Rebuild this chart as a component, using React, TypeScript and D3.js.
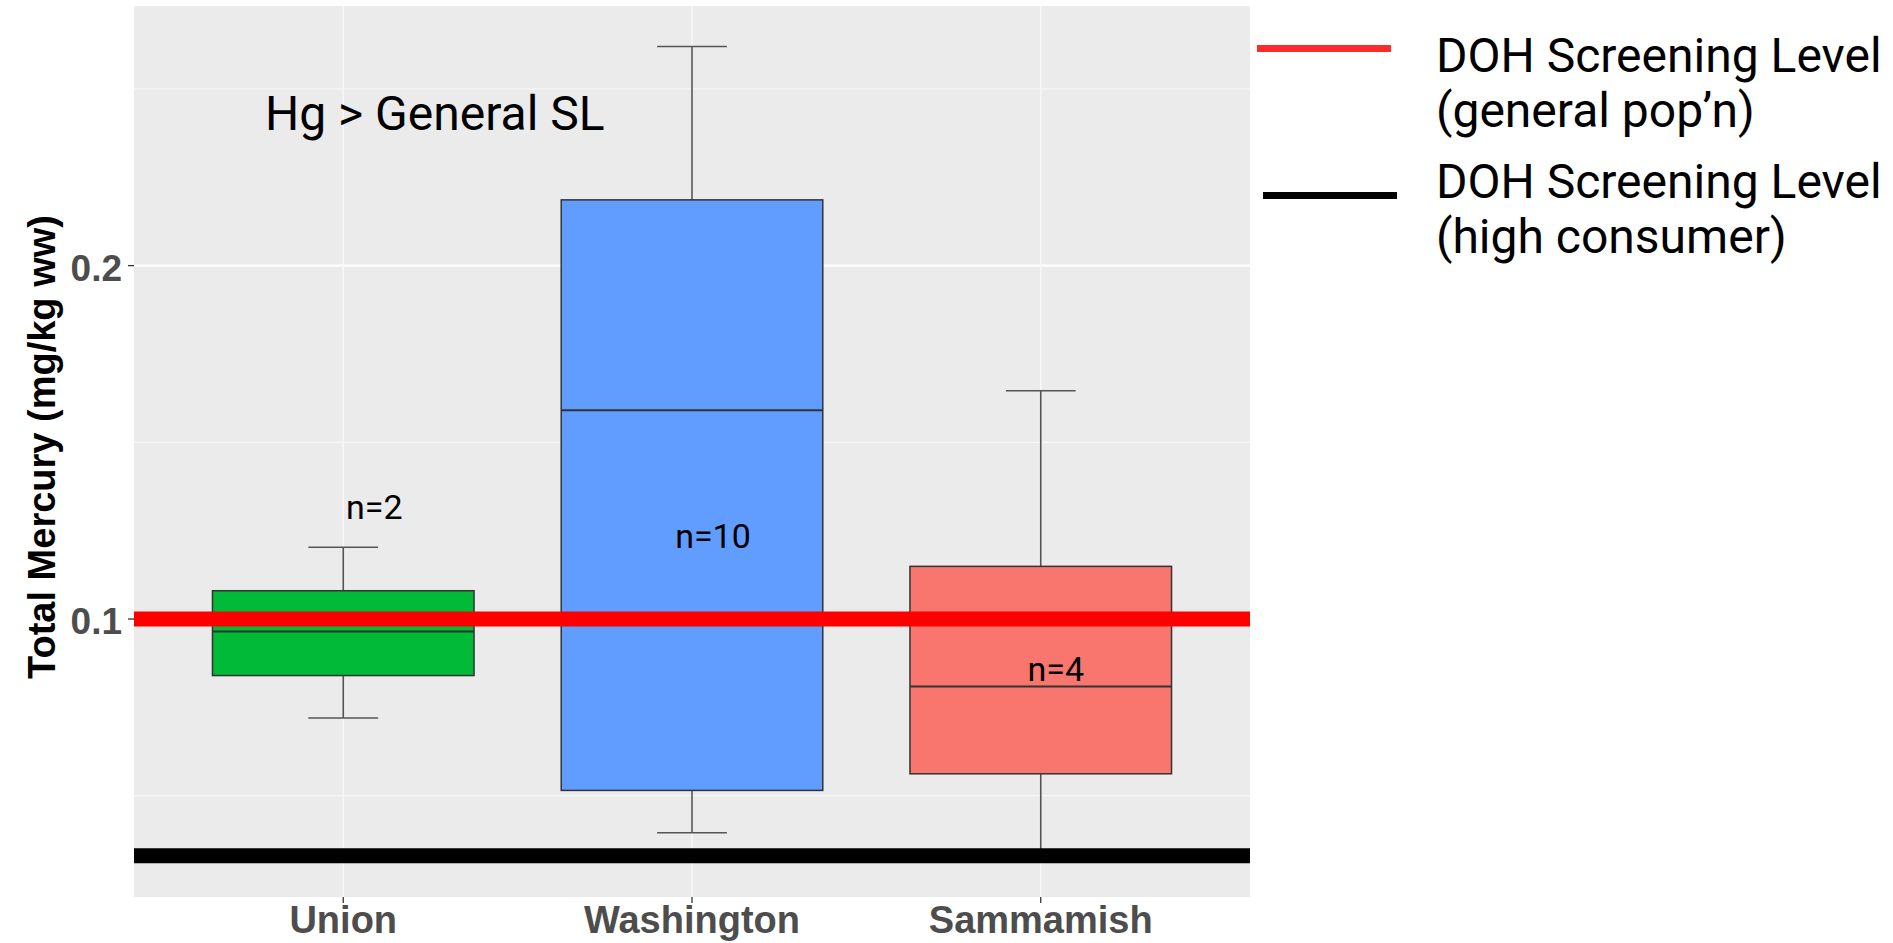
import React from "react";
import * as d3 from "d3";

// Fish tissue mercury by lake
const categories = ["Union", "Washington", "Sammamish"];
const whiskerLow = [0.072, 0.0395, 0.0328];
const quartile1 = [0.084, 0.0515, 0.0562];
const medians = [0.0965, 0.1591, 0.0809];
const quartile3 = [0.108, 0.2186, 0.1149];
const whiskerHigh = [0.1203, 0.262, 0.1646];
const sampleCounts = [2, 10, 4];
const boxFills = ["#00BA38", "#619CFF", "#F8766D"];

// DOH screening levels (mg/kg ww)
const screeningValues = [0.1, 0.033];
const screeningColors = ["#FF0000", "#000000"];
const screeningLegendColors = ["#FF2B2B", "#000000"];
const screeningLabels = [
  ["DOH Screening Level", "(general pop\u2019n)"],
  ["DOH Screening Level", "(high consumer)"],
];

const majorTicks = [0.1, 0.2];
const minorTicks = [0.05, 0.15, 0.25];

const W = 1893;
const H = 943;
const panel = { left: 134, right: 1250, top: 6, bottom: 897 };

export default function App() {
  const allValues = [...whiskerLow, ...whiskerHigh, ...screeningValues];
  const [lo, hi] = d3.extent(allValues) as [number, number];
  const pad = (hi - lo) * 0.05;
  const y = d3.scaleLinear().domain([lo - pad, hi + pad]).range([panel.bottom, panel.top]);
  const x = d3
    .scaleLinear()
    .domain([0.4, categories.length + 0.6])
    .range([panel.left, panel.right]);
  const unit = x(2) - x(1);
  const boxHalf = (0.75 * unit) / 2;
  const capHalf = (0.2 * unit) / 2;

  // where each "n=" annotation sits: value on the y axis and horizontal nudge from the box centre
  const countLabelAt = [
    { v: 0.1284, dx: 31 },
    { v: 0.1201, dx: 21 },
    { v: 0.0825, dx: 15 },
  ];

  const axisFont = "'Liberation Sans', Arial, sans-serif";
  const noteFont = "Roboto, 'Noto Sans', sans-serif";

  return (
    <svg
      width={W}
      height={H}
      viewBox={`0 0 ${W} ${H}`}
      style={{ position: "absolute", left: 0, top: 0, background: "#ffffff" }}
    >
      <rect x={0} y={0} width={W} height={H} fill="#ffffff" />
      {/* panel */}
      <rect
        x={panel.left}
        y={panel.top}
        width={panel.right - panel.left}
        height={panel.bottom - panel.top}
        fill="#EBEBEB"
      />
      {minorTicks.map((t) => (
        <line
          key={`mn${t}`}
          x1={panel.left}
          x2={panel.right}
          y1={y(t)}
          y2={y(t)}
          stroke="#F6F6F6"
          strokeWidth={1.3}
        />
      ))}
      {majorTicks.map((t) => (
        <line
          key={`mj${t}`}
          x1={panel.left}
          x2={panel.right}
          y1={y(t)}
          y2={y(t)}
          stroke="#ffffff"
          strokeWidth={2.2}
        />
      ))}
      {categories.map((c, i) => (
        <line
          key={`vg${c}`}
          x1={x(i + 1)}
          x2={x(i + 1)}
          y1={panel.top}
          y2={panel.bottom}
          stroke="#F7F7F7"
          strokeWidth={1.6}
        />
      ))}

      {/* boxplots */}
      {categories.map((c, i) => {
        const cx = x(i + 1);
        return (
          <g key={`box${c}`}>
            <line x1={cx} x2={cx} y1={y(whiskerHigh[i])} y2={y(quartile3[i])} stroke="#555555" strokeWidth={1.6} />
            <line x1={cx} x2={cx} y1={y(quartile1[i])} y2={y(whiskerLow[i])} stroke="#555555" strokeWidth={1.6} />
            <line
              x1={cx - capHalf}
              x2={cx + capHalf}
              y1={y(whiskerHigh[i])}
              y2={y(whiskerHigh[i])}
              stroke="#555555"
              strokeWidth={1.6}
            />
            <line
              x1={cx - capHalf}
              x2={cx + capHalf}
              y1={y(whiskerLow[i])}
              y2={y(whiskerLow[i])}
              stroke="#555555"
              strokeWidth={1.6}
            />
            <rect
              x={cx - boxHalf}
              y={y(quartile3[i])}
              width={boxHalf * 2}
              height={y(quartile1[i]) - y(quartile3[i])}
              fill={boxFills[i]}
              stroke="#333333"
              strokeWidth={1.5}
            />
            <line
              x1={cx - boxHalf}
              x2={cx + boxHalf}
              y1={y(medians[i])}
              y2={y(medians[i])}
              stroke="#333333"
              strokeWidth={2}
            />
          </g>
        );
      })}

      {/* screening level lines */}
      {screeningValues.map((v, i) => (
        <line
          key={`sl${i}`}
          x1={panel.left}
          x2={panel.right}
          y1={y(v)}
          y2={y(v)}
          stroke={screeningColors[i]}
          strokeWidth={15}
        />
      ))}

      {/* sample counts */}
      {categories.map((c, i) => (
        <text
          key={`n${c}`}
          x={x(i + 1) + countLabelAt[i].dx}
          y={y(countLabelAt[i].v)}
          textAnchor="middle"
          fontFamily={noteFont}
          fontSize={34}
          fill="#000000"
        >
          {`n=${sampleCounts[i]}`}
        </text>
      ))}

      <text x={265} y={130} fontFamily={noteFont} fontSize={48} fill="#000000">
        Hg &gt; General SL
      </text>

      {/* y axis */}
      {majorTicks.map((t) => (
        <g key={`yt${t}`}>
          <line x1={panel.left - 6} x2={panel.left} y1={y(t)} y2={y(t)} stroke="#333333" strokeWidth={1.3} />
          <text
            x={panel.left - 12}
            y={y(t) + 15}
            textAnchor="end"
            fontFamily={axisFont}
            fontWeight="bold"
            fontSize={37}
            fill="#4D4D4D"
          >
            {d3.format(".1f")(t)}
          </text>
        </g>
      ))}
      <text
        transform={`translate(55, 447) rotate(-90)`}
        textAnchor="middle"
        fontFamily={axisFont}
        fontWeight="bold"
        fontSize={38}
        fill="#000000"
      >
        Total Mercury (mg/kg ww)
      </text>

      {/* x axis */}
      {categories.map((c, i) => (
        <g key={`xt${c}`}>
          <line x1={x(i + 1)} x2={x(i + 1)} y1={panel.bottom} y2={panel.bottom + 6} stroke="#333333" strokeWidth={1.3} />
          <text
            x={x(i + 1)}
            y={933}
            textAnchor="middle"
            fontFamily={axisFont}
            fontWeight="bold"
            fontSize={38}
            fill="#4D4D4D"
          >
            {c}
          </text>
        </g>
      ))}

      {/* legend */}
      {screeningLabels.map((lines, i) => {
        const top = i * 126;
        return (
          <g key={`lg${i}`}>
            <line
              x1={1257 + i * 6}
              x2={1391 + i * 6}
              y1={48.5 + top + i * 21}
              y2={48.5 + top + i * 21}
              stroke={screeningLegendColors[i]}
              strokeWidth={6.8}
            />
            {lines.map((ln, j) => (
              <text
                key={j}
                x={1436}
                y={72 + i * 126 + j * 55}
                fontFamily={noteFont}
                fontSize={48}
                fill="#000000"
              >
                {ln}
              </text>
            ))}
          </g>
        );
      })}
    </svg>
  );
}
